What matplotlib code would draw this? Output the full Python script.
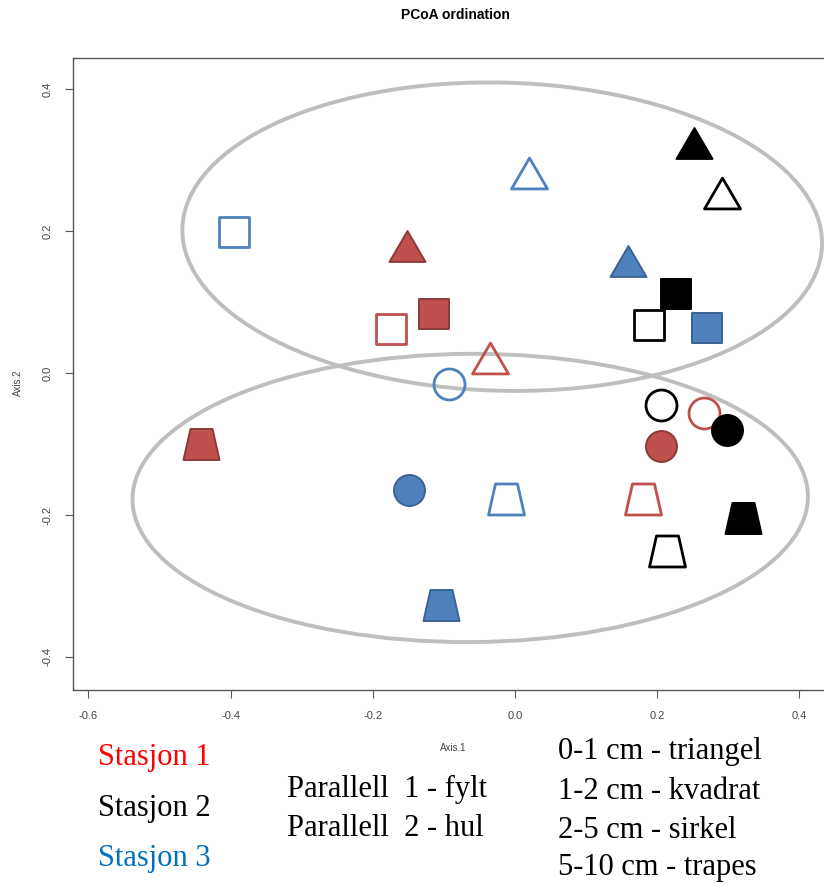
import matplotlib
matplotlib.use("Agg")
import matplotlib.pyplot as plt
from matplotlib.path import Path
from matplotlib.markers import MarkerStyle
from matplotlib.patches import Ellipse

DPI = 100

stasjoner = ["Stasjon 1", "Stasjon 2", "Stasjon 3"]
tekst_farger = ["#FF0000", "#000000", "#0070C0"]
fyll_farger = ["#C0504D", "#000000", "#4F81BD"]
kant_farger = ["#8C3A38", "#000000", "#3A6394"]

# rekkefolge i hver stasjon: dybde + parallell (1 = fylt, 2 = hul)
dybder = ["0-1", "0-1", "1-2", "1-2", "2-5", "2-5", "5-10", "5-10"]
paralleller = [1, 2, 1, 2, 1, 2, 1, 2]

st1_x = [-0.152, -0.035, -0.114, -0.174, 0.205, 0.266, -0.442, 0.180]
st1_y = [0.179, 0.021, 0.083, 0.062, -0.103, -0.056, -0.100, -0.178]
st2_x = [0.252, 0.291, 0.226, 0.188, 0.298, 0.205, 0.321, 0.214]
st2_y = [0.324, 0.254, 0.111, 0.068, -0.080, -0.045, -0.204, -0.251]
st3_x = [0.159, 0.020, 0.270, -0.395, -0.149, -0.093, -0.104, -0.013]
st3_y = [0.158, 0.282, 0.063, 0.199, -0.165, -0.015, -0.327, -0.177]

# ellipser: senter, bredde, hoyde, vinkel
ell_x = [-0.018, -0.063]
ell_y = [0.192, -0.176]
ell_b = [0.900, 0.950]
ell_h = [0.434, 0.406]
ell_v = [-1.5, 0.3]

x_ticks = [-0.6, -0.4, -0.2, 0.0, 0.2, 0.4]
y_ticks = [-0.4, -0.2, 0.0, 0.2, 0.4]

parallell_tekster = ["Parallell  1 - fylt", "Parallell  2 - hul"]
dybde_tekster = ["0-1 cm - triangel", "1-2 cm - kvadrat", "2-5 cm - sirkel", "5-10 cm - trapes"]


def lag_form(punkter):
    return Path(punkter + [punkter[0]], closed=True)


# former i piksler
former = {
    "0-1": lag_form([(-17.5, -15), (17.5, -15), (0, 15)]),
    "1-2": lag_form([(-15, -15), (15, -15), (15, 15), (-15, 15)]),
    "2-5": "o",
    "5-10": lag_form([(-18, -15.5), (18, -15.5), (11, 15.5), (-11, 15.5)]),
}
storrelser = {"0-1": 36, "1-2": 30, "2-5": 31, "5-10": 36}


def tegn_stasjon(ax, xs, ys, nr):
    for i in range(len(xs)):
        d = dybder[i]
        ms = storrelser[d] * 72 / DPI
        if paralleller[i] == 1:
            ax.plot(xs[i], ys[i], ls="none", marker=MarkerStyle(former[d]), ms=ms,
                    mfc=fyll_farger[nr], mec=kant_farger[nr], mew=1.4, zorder=3)
        else:
            ax.plot(xs[i], ys[i], ls="none", marker=MarkerStyle(former[d]), ms=ms,
                    mfc="none", mec=fyll_farger[nr], mew=2.0, zorder=3)


fig = plt.figure(figsize=(824 / DPI, 883 / DPI), dpi=DPI)
ax = fig.add_axes([73 / 824, 1 - 690 / 883, (837 - 73) / 824, (690 - 58) / 883])
ax.set_xlim((73 - 515) / 711, (837 - 515) / 711)
ax.set_ylim((373 - 690) / 710, (373 - 58) / 710)

for i in range(len(ell_x)):
    e = Ellipse((ell_x[i], ell_y[i]), ell_b[i], ell_h[i], angle=ell_v[i],
                fill=False, ec="#BEBEBE", lw=2.8, zorder=2)
    ax.add_patch(e)

tegn_stasjon(ax, st1_x, st1_y, 0)
tegn_stasjon(ax, st2_x, st2_y, 1)
tegn_stasjon(ax, st3_x, st3_y, 2)

for s in ax.spines.values():
    s.set_color("#555555")
    s.set_linewidth(1.0)

ax.set_xticks(x_ticks)
ax.set_xticklabels(["%.1f" % v for v in x_ticks])
ax.set_yticks(y_ticks)
ax.set_yticklabels(["%.1f" % v for v in y_ticks], rotation=90, va="center")
ax.tick_params(direction="out", length=6, width=0.8, color="#555555",
               labelcolor="#444444", labelsize=8, pad=9)
for lab in ax.get_xticklabels() + ax.get_yticklabels():
    lab.set_family("Liberation Sans")

fig.text(455 / 824, 1 - 15 / 883, "PCoA ordination", ha="center", va="center",
         fontsize=10, weight="bold", family="Liberation Sans")
fig.text(453 / 824, 1 - 748 / 883, "Axis.1", ha="center", va="center",
         fontsize=7, color="#444444", family="Liberation Sans")
fig.text(18 / 824, 1 - 383 / 883, "Axis.2", ha="center", va="center", rotation=90,
         fontsize=7, color="#444444", family="Liberation Sans")

serif = "Liberation Serif"
stasjon_y = [765, 816, 866]
for i in range(len(stasjoner)):
    fig.text(98 / 824, 1 - stasjon_y[i] / 883, stasjoner[i], color=tekst_farger[i],
             fontsize=22, family=serif, va="baseline")
parallell_y = [797, 836]
for i in range(len(parallell_tekster)):
    fig.text(287 / 824, 1 - parallell_y[i] / 883, parallell_tekster[i],
             fontsize=22, family=serif, va="baseline")
dybde_y = [759, 799, 838, 875]
for i in range(len(dybde_tekster)):
    fig.text(558 / 824, 1 - dybde_y[i] / 883, dybde_tekster[i],
             fontsize=22, family=serif, va="baseline")

fig.savefig("out.png", dpi=DPI)
